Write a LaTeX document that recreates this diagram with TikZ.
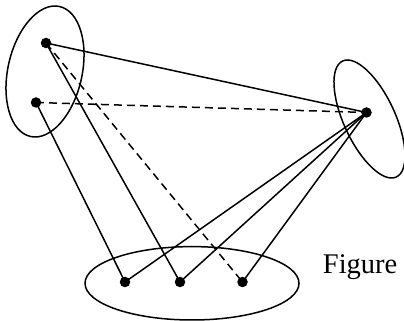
\documentclass[tikz,border=0pt]{standalone}
\usepackage{fontspec}
\setmainfont{Liberation Serif}
\begin{document}
\begin{tikzpicture}[x=1pt,y=1pt,
  dot/.style={circle,fill=black,inner sep=0pt,minimum size=10.5pt},
  link/.style={line width=1.5pt},
  dlink/.style={line width=1.5pt,dash pattern=on 8pt off 5pt},
  blob/.style={line width=1.5pt}]
\useasboundingbox (0,0) rectangle (404,321);
\clip (0,0) rectangle (404,321);
% groups
\draw[blob,rotate around={-12.6:(45,249.5)}] (45,249.5) ellipse [x radius=37.1, y radius=66.6];
\draw[blob,rotate around={24.8:(369.5,202)}] (369.5,202) ellipse [x radius=25.7, y radius=63.9];
\draw[blob] (192,37.7) ellipse [x radius=107, y radius=36.7];
% points
\coordinate (A) at (46,278);
\coordinate (B) at (36,218.5);
\coordinate (C) at (366.5,208.5);
\coordinate (D1) at (125,39);
\coordinate (D2) at (180,39);
\coordinate (D3) at (242.5,39);
% connectors
\draw[link] (A) -- (C);
\draw[link] (A) -- (D2);
\draw[link] (B) -- (D1);
\draw[link] (C) -- (D1);
\draw[link] (C) -- (D2);
\draw[link] (C) -- (D3);
\draw[dlink] (A) -- (D3);
\draw[dlink] (B) -- (C);
% dots
\node[dot] (a) at (A) {};
\node[dot] (b) at (B) {};
\node[dot] (c) at (C) {};
\node[dot] (d1) at (D1) {};
\node[dot] (d2) at (D2) {};
\node[dot] (d3) at (D3) {};
\node[anchor=base west,inner sep=0pt,font=\fontsize{28.5}{32}\selectfont] (lab) at (322.7,47.7) {Figure};
\end{tikzpicture}
\end{document}
